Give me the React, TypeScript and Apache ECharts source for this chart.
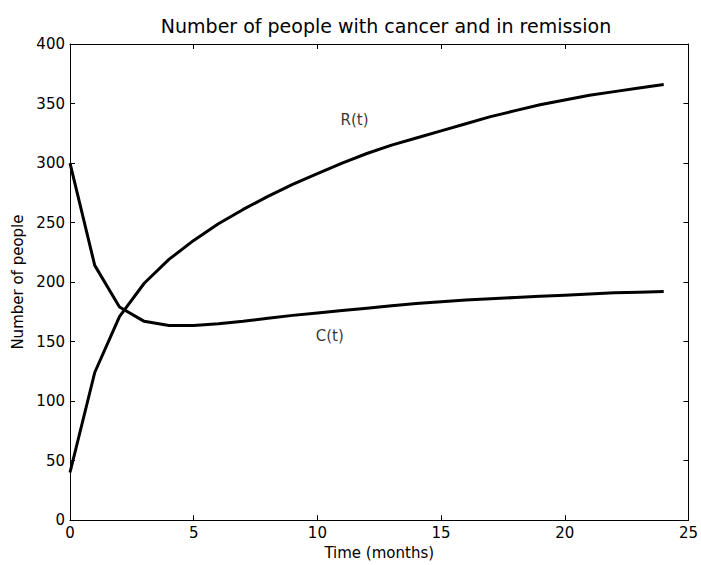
import React, { useEffect, useRef } from "react";
import * as echarts from "echarts";

const months = [0, 1, 2, 3, 4, 5, 6, 7, 8, 9, 10, 11, 12, 13, 14, 15, 16, 17, 18, 19, 20, 21, 22, 23, 24];
const cancer = [300, 214, 179, 167, 163.5, 163.5, 165, 167, 169.5, 172, 174, 176, 178, 180, 182, 183.5, 185, 186, 187, 188, 189, 190, 191, 191.5, 192];
const remission = [40, 124, 171, 199, 219, 235, 249, 261, 272, 282, 291, 300, 308, 315, 321, 327, 333, 339, 344, 349, 353, 357, 360, 363, 366];
const curveLabelText = ["R(t)", "C(t)"];
const curveLabelT = [11.5, 10.5];
const curveLabelV = [336, 155];

const FONT = "DejaVu Sans";

export default function App() {
  const ref = useRef<HTMLDivElement>(null);
  useEffect(() => {
    if (!ref.current) return;
    const chart = echarts.init(ref.current, undefined, { renderer: "svg" });
    const axisCommon = {
      axisLine: { show: true, onZero: false, lineStyle: { color: "#000", width: 1 } },
      axisTick: { show: true, inside: true, length: 5, lineStyle: { color: "#000" } },
      splitLine: { show: false },
    };
    const labelStyle = { color: "#000", fontFamily: FONT, fontSize: 15 };
    chart.setOption({
      animation: false,
      backgroundColor: "#fff",
      title: {
        text: "Number of people with cancer and in remission",
        left: 381,
        textAlign: "center",
        top: 11,
        textStyle: { color: "#000", fontFamily: FONT, fontSize: 19, fontWeight: "normal" },
      },
      grid: { left: 70, right: 9, top: 44, bottom: 37, containLabel: false },
      xAxis: [
        {
          type: "value",
          min: 0,
          max: 25,
          interval: 5,
          position: "bottom",
          name: "Time (months)",
          nameLocation: "middle",
          nameGap: 21,
          nameTextStyle: labelStyle,
          axisLabel: { ...labelStyle, margin: 5 },
          ...axisCommon,
        },
        {
          type: "value",
          min: 0,
          max: 25,
          interval: 5,
          position: "top",
          axisLabel: { show: false },
          ...axisCommon,
        },
      ],
      yAxis: [
        {
          type: "value",
          min: 0,
          max: 400,
          interval: 50,
          position: "left",
          name: "Number of people",
          nameLocation: "middle",
          nameGap: 44,
          nameTextStyle: labelStyle,
          axisLabel: { ...labelStyle, margin: 5 },
          ...axisCommon,
        },
        {
          type: "value",
          min: 0,
          max: 400,
          interval: 50,
          position: "right",
          axisLabel: { show: false },
          ...axisCommon,
        },
      ],
      series: [
        {
          type: "line",
          name: "C(t)",
          data: months.map((t, i) => [t, cancer[i]]),
          showSymbol: false,
          lineStyle: { color: "#000", width: 3 },
        },
        {
          type: "line",
          name: "R(t)",
          data: months.map((t, i) => [t, remission[i]]),
          showSymbol: false,
          lineStyle: { color: "#000", width: 3 },
        },
        {
          type: "scatter",
          name: "labels",
          symbolSize: 1,
          itemStyle: { color: "rgba(0,0,0,0)" },
          data: curveLabelText.map((txt, i) => ({ value: [curveLabelT[i], curveLabelV[i]], name: txt })),
          label: {
            show: true,
            position: "inside",
            formatter: (p: any) => p.name,
            ...labelStyle,
          },
          silent: true,
        },
      ],
    });
    return () => chart.dispose();
  }, []);
  return <div ref={ref} style={{ width: 701, height: 565, position: "absolute", left: 0, top: 0 }} />;
}
